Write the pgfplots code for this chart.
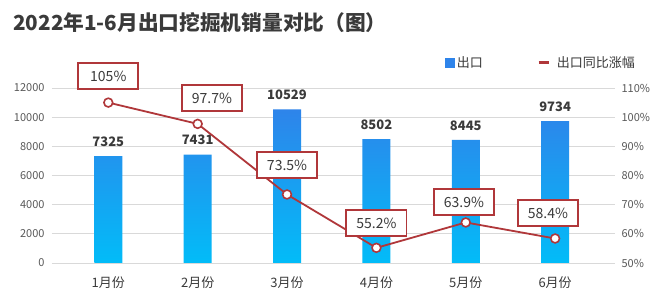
\documentclass[border=0pt]{standalone}
\usepackage{pgfplots}
\pgfplotsset{compat=1.18}
\usepackage{fontspec}
\setmainfont{Noto Sans CJK SC}
\definecolor{barTop}{HTML}{2E84EA}
\definecolor{barBot}{HTML}{02BCF8}
\definecolor{lineRed}{HTML}{B0373A}
\definecolor{txt}{HTML}{3A3A3A}
\definecolor{tickc}{HTML}{595959}
\definecolor{gridc}{HTML}{D9D9D9}
\tikzset{lbl/.style={draw=lineRed, line width=1.8pt, fill=white, minimum width=60pt,
    minimum height=26pt, inner sep=2pt, font=\fontsize{14}{16}\selectfont, text=txt}}
\begin{document}
\begin{tikzpicture}
\useasboundingbox[fill=white] (-52pt,-44pt) rectangle (600pt,263pt);
\node[anchor=west, inner sep=0pt, font=\bfseries\fontsize{20.7}{24}\selectfont, text=txt] at (-39pt,240pt) {2022年1-6月出口挖掘机销量对比（图）};
\begin{axis}[
  scale only axis,
  width=563pt, height=175pt,
  xmin=-0.63, xmax=5.67, ymin=0, ymax=12000,
  axis x line*=bottom, axis y line*=left,
  axis line style={draw=none}, major tick length=0pt,
  ymajorgrids, grid style={gridc, line width=0.8pt},
  ytick={0,2000,...,12000},
  scaled y ticks=false,
  /pgf/number format/1000 sep={},
  /pgf/number format/assume math mode=true,
  yticklabel style={font=\fontsize{11}{13}\selectfont, text=tickc, xshift=-4pt},
  xtick={0,1,2,3,4,5},
  xticklabels={1月份,2月份,3月份,4月份,5月份,6月份},
  xticklabel style={font=\fontsize{13}{15}\selectfont, text=txt, yshift=-10pt},
  clip=false,
]
\addplot[ybar, bar width=28pt, draw=none, top color=barTop, bottom color=barBot]
  coordinates {(0,7325) (1,7431) (2,10529) (3,8502) (4,8445) (5,9734)};
\addplot[draw=none, mark=none, nodes near coords,
  nodes near coords align={above},
  every node near coord/.append style={font=\bfseries\fontsize{13}{15}\selectfont, text=txt, yshift=6pt}]
  coordinates {(0,7325) (1,7431) (2,10529) (3,8502) (4,8445) (5,9734)};
\end{axis}
\begin{axis}[
  scale only axis,
  width=563pt, height=175pt,
  xmin=-0.63, xmax=5.67, ymin=50, ymax=110,
  axis y line*=right, axis x line=none,
  axis line style={draw=none}, major tick length=0pt,
  ytick={50,60,...,110},
  /pgf/number format/assume math mode=true,
  yticklabel={\pgfmathprintnumber{\tick}\%},
  yticklabel style={font=\fontsize{11}{13}\selectfont, text=tickc, xshift=3pt},
  clip=false,
  legend columns=2,
  legend style={at={(1.039,1.194)}, anchor=north east, draw=none, fill=none,
    inner sep=0pt, font=\fontsize{13}{15}\selectfont, text=txt,
    /tikz/every even column/.append style={column sep=52pt}},
]
\addlegendimage{legend image code/.code={\fill[barTop] (0pt,-4.5pt) rectangle (9pt,4.5pt);}}
\addlegendentry{出口}
\addlegendimage{legend image code/.code={\draw[lineRed, line width=3.5pt] (0pt,0pt) -- (10pt,0pt); \path (16pt,0pt);}}
\addlegendentry{出口同比涨幅}
\addplot[forget plot, lineRed, line width=1.8pt, mark=*, mark size=4.4pt,
  mark options={fill=white, draw=lineRed, line width=1.6pt}]
  coordinates {(0,105) (1,97.7) (2,73.5) (3,55.2) (4,63.9) (5,58.4)};
\node[lbl] at (axis cs:0,114.1) {105\%};
\node[lbl] at (axis cs:1.16,106.6) {97.7\%};
\node[lbl] at (axis cs:2,83.6) {73.5\%};
\node[lbl] at (axis cs:3,63.7) {55.2\%};
\node[lbl] at (axis cs:3.98,70.9) {63.9\%};
\node[lbl] at (axis cs:4.92,67.1) {58.4\%};
\end{axis}
\end{tikzpicture}
\end{document}
